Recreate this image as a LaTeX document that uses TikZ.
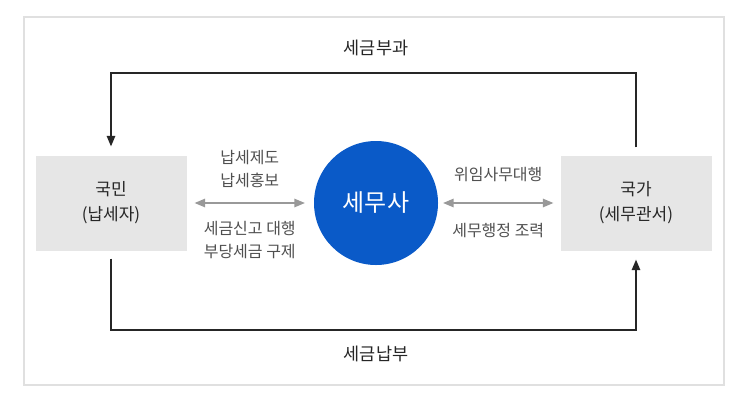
\documentclass[tikz,border=0pt]{standalone}
\usepackage{fontspec}
\setmainfont{Noto Sans CJK KR}
\usepackage{xcolor}
\usepackage{tikz}
\usetikzlibrary{shapes,arrows}
\usetikzlibrary{positioning}
\definecolor{agentblue}{RGB}{10,90,200}
\definecolor{boxgray}{RGB}{230,230,230}
\definecolor{notegray}{RGB}{80,80,80}
\tikzstyle{frame} = [draw=black!12, line width=1.5pt, fill=white]
\tikzstyle{party} = [rectangle, fill=boxgray, minimum width=151pt,
    minimum height=95pt, align=center, font=\fontsize{17}{25}\selectfont,
    text=black!85]
\tikzstyle{agent} = [circle, fill=agentblue, minimum size=124pt,
    text=white, font=\fontsize{24}{28}\selectfont]
\tikzstyle{title} = [font=\fontsize{17.5}{20}\selectfont, text=black!85]
\tikzstyle{note} = [align=center, inner sep=0pt, text=notegray,
    font=\fontsize{16}{23}\selectfont]
\tikzstyle{line} = [draw, line width=1.4pt, black!85, -triangle 45,
    shorten <=8pt, shorten >=9pt]
\tikzstyle{link} = [draw, line width=1.4pt, black!40, triangle 45-triangle 45]

\begin{document}
\begin{tikzpicture}[x=1pt, y=-1pt]
  \useasboundingbox (0,0) rectangle (743,400);
  \path [frame] (24,17) rectangle (724,385);

  % Place nodes
  \node [party] (people) at (111,203) {국민\\(납세자)};
  \node [party] (state) at (636,203) {국가\\(세무관서)};
  \node [agent] (taxacc) at (376,203) {세무사};
  \node [title] (levy) at (376,48) {세금부과};
  \node [title] (payment) at (376,354) {세금납부};

  \coordinate (upper) at (376,73);
  \coordinate (lower) at (376,330);

  % Tax flow
  \path [line] (state.north) |- (upper) -| (people.north);
  \path [line] (people.south) |- (lower) -| (state.south);

  % Services
  \path [link] ([xshift=8pt]people.east) -- ([xshift=-9pt]taxacc.west)
    node [note, midway, above=15pt] {납세제도\\납세홍보}
    node [note, midway, below=18pt] {세금신고 대행\\부당세금 구제};
  \path [link] ([xshift=5pt]taxacc.east) -- ([xshift=-7pt]state.west)
    node [note, midway, above=21pt] {위임사무대행}
    node [note, midway, below=20pt] {세무행정 조력};

\end{tikzpicture}
\end{document}
